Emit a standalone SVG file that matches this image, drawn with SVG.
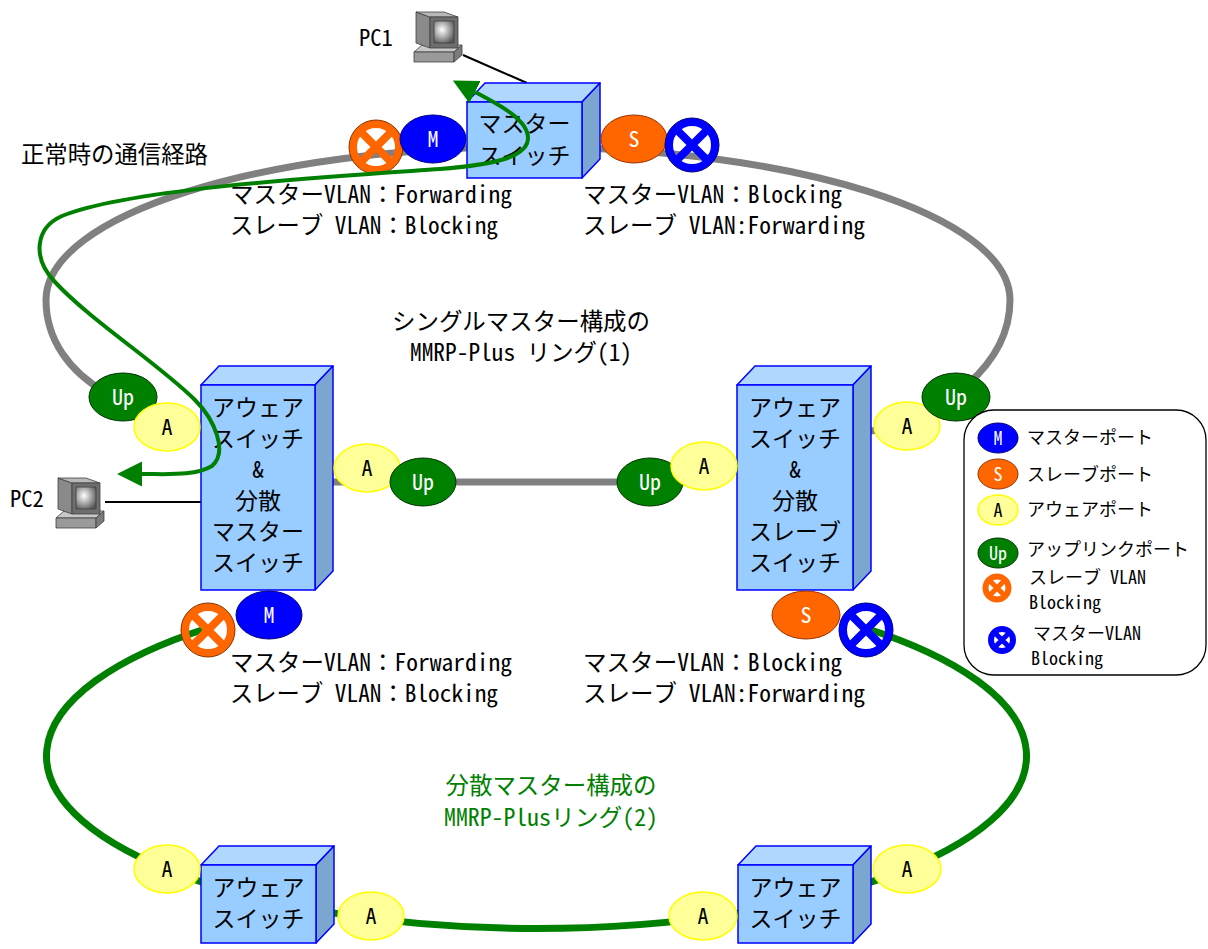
<svg xmlns="http://www.w3.org/2000/svg" width="1208" height="949" viewBox="0 0 1208 949">
  <defs>
    <style>
      .txt{font-family:"Noto Sans Mono CJK JP","Noto Sans CJK JP","DejaVu Sans",sans-serif;fill:#000}
      .lbl{font-size:23.5px}
      .swt{font-size:23px;text-anchor:middle}
      .lg{font-size:18px}
      .pt{font-family:"Noto Sans Mono CJK JP","DejaVu Sans Condensed","DejaVu Sans",sans-serif;font-size:22px;text-anchor:middle}
      .ptl{font-family:"Noto Sans Mono CJK JP","DejaVu Sans Condensed","DejaVu Sans",sans-serif;font-size:18px;text-anchor:middle}
      .w{fill:#fff}
      .k{fill:#000}
      .grn{fill:#008000}
      .front{fill:#99ccff;stroke:#0000ff;stroke-width:1.5}
      .top{fill:#b0d8ff;stroke:#0000ff;stroke-width:1.5;stroke-linejoin:round}
      .side{fill:#7ba6cf;stroke:#0000ff;stroke-width:1.5;stroke-linejoin:round}
      .pm{fill:#0000ff;stroke:#000080;stroke-width:1}
      .ps{fill:#ff6600;stroke:#993300;stroke-width:1}
      .pa{fill:#ffff99;stroke:#ffff00;stroke-width:1.5}
      .pu{fill:#008000;stroke:#003300;stroke-width:1}
      .ring1{fill:none;stroke:#808080;stroke-width:7}
      .ring2{fill:none;stroke:#008000;stroke-width:7}
      .wire{fill:none;stroke:#000;stroke-width:2}
      .route{fill:none;stroke:#008000;stroke-width:4;marker-start:url(#arr);marker-end:url(#arr)}
    </style>
    <marker id="arr" markerUnits="userSpaceOnUse" markerWidth="28" markerHeight="30" viewBox="0 -15 28 30" refX="0" refY="0" orient="auto-start-reverse">
      <path d="M0,-12.5 L25,0 L0,12.5 z" fill="#008000"/>
    </marker>
    <radialGradient id="screen" cx="0.4" cy="0.4" r="0.7">
      <stop offset="0" stop-color="#ffffff"/>
      <stop offset="1" stop-color="#555555"/>
    </radialGradient>
    <!-- blocked port marks: ring with a cross -->
    <g id="xo">
      <circle r="23" fill="none" stroke="#ff6600" stroke-width="8"/>
      <circle r="27" fill="none" stroke="#8a3300" stroke-width="1"/>
      <path d="M-17,-17 L17,17 M-17,17 L17,-17" stroke="#ff6600" stroke-width="8"/>
    </g>
    <g id="xb">
      <circle r="23" fill="none" stroke="#0000ff" stroke-width="8"/>
      <circle r="27" fill="none" stroke="#000080" stroke-width="1"/>
      <path d="M-17,-17 L17,17 M-17,17 L17,-17" stroke="#0000ff" stroke-width="8"/>
    </g>
    <!-- desktop PC icon -->
    <symbol id="pc" viewBox="0 0 52 56" width="52" height="56">
      <g stroke="#404040" stroke-width="0.8" stroke-linejoin="round">
        <polygon points="2,44 10,37 50,37 42,44" fill="#c8c8c8"/>
        <polygon points="2,44 42,44 42,54 2,54" fill="#9a9a9a"/>
        <polygon points="42,44 50,37 50,47 42,54" fill="#7a7a7a"/>
        <polygon points="18,9 4,4 4,35 18,40" fill="#8a8a8a"/>
        <polygon points="18,9 46,9 32,4 4,4" fill="#b8b8b8"/>
        <rect x="18" y="9" width="28" height="31" fill="#6e6e6e"/>
        <rect x="22" y="13" width="20" height="22" fill="url(#screen)"/>
      </g>
    </symbol>
  </defs>

  <!-- ring cabling -->
  <g id="connectors">
    <path class="ring1" d="M105,392 C70,372 46,340 46,300 C46,215 262,147 528,147 C794,147 1010,215 1010,300 C1010,332 995,360 968,384"/>
    <path class="ring1" d="M330,482 L720,482"/>
    <path class="ring1" d="M860,432 L900,428"/>
    <path class="ring2" d="M208,628 A490 172.5 0 1 0 865,628"/>
    <path class="wire" d="M463,55 L527,83"/>
    <path class="wire" d="M105,502 L201,502"/>
  </g>

  <!-- PCs -->
  <g id="pc1">
    <use href="#pc" x="412" y="8"/>
    <text class="txt" x="359" y="46" font-size="22.5">PC1</text>
  </g>
  <g id="pc2">
    <use href="#pc" x="54" y="474"/>
    <text class="txt" x="10" y="507" font-size="22.5">PC2</text>
  </g>

  <!-- switches -->
  <g id="sw-master">
    <polygon class="top" points="467,102 485,83 600,83 582,102"/>
    <polygon class="side" points="582,102 600,83 600,159 582,178"/>
    <rect class="front" x="467" y="102" width="115" height="76"/>
    <text class="txt swt" x="524.5" y="132">マスター</text>
    <text class="txt swt" x="524.5" y="164">スイッチ</text>
  </g>
  <g id="sw-left">
    <polygon class="top" points="201,385 219,366 333,366 315,385"/>
    <polygon class="side" points="315,385 333,366 333,571 315,590"/>
    <rect class="front" x="201" y="385" width="114" height="205"/>
    <text class="txt swt" x="258" y="416">アウェア</text>
    <text class="txt swt" x="258" y="447">スイッチ</text>
    <text class="txt swt" x="258" y="478">&amp;</text>
    <text class="txt swt" x="258" y="509">分散</text>
    <text class="txt swt" x="258" y="540">マスター</text>
    <text class="txt swt" x="258" y="571">スイッチ</text>
  </g>
  <g id="sw-right">
    <polygon class="top" points="737,385 755,366 871,366 853,385"/>
    <polygon class="side" points="853,385 871,366 871,571 853,590"/>
    <rect class="front" x="737" y="385" width="116" height="205"/>
    <text class="txt swt" x="795" y="416">アウェア</text>
    <text class="txt swt" x="795" y="447">スイッチ</text>
    <text class="txt swt" x="795" y="478">&amp;</text>
    <text class="txt swt" x="795" y="509">分散</text>
    <text class="txt swt" x="795" y="540">スレーブ</text>
    <text class="txt swt" x="795" y="571">スイッチ</text>
  </g>
  <g id="sw-bottom-left">
    <polygon class="top" points="201,865 219,846 334,846 316,865"/>
    <polygon class="side" points="316,865 334,846 334,924 316,943"/>
    <rect class="front" x="201" y="865" width="115" height="78"/>
    <text class="txt swt" x="258.5" y="896">アウェア</text>
    <text class="txt swt" x="258.5" y="927">スイッチ</text>
  </g>
  <g id="sw-bottom-right">
    <polygon class="top" points="738,865 756,846 871,846 853,865"/>
    <polygon class="side" points="853,865 871,846 871,924 853,943"/>
    <rect class="front" x="738" y="865" width="115" height="78"/>
    <text class="txt swt" x="795.5" y="896">アウェア</text>
    <text class="txt swt" x="795.5" y="927">スイッチ</text>
  </g>

  <!-- ports -->
  <g id="port-master-x"><use href="#xo" x="376" y="147"/></g>
  <g id="port-master-m"><ellipse class="pm" cx="433" cy="139" rx="33" ry="24"/><text class="pt w" x="433" y="147">M</text></g>
  <g id="port-master-s"><ellipse class="ps" cx="634" cy="139" rx="33" ry="24"/><text class="pt w" x="634" y="147">S</text></g>
  <g id="port-master-xb"><use href="#xb" x="692" y="145"/></g>

  <g id="port-left-up"><ellipse class="pu" cx="123" cy="397" rx="34" ry="24"/><text class="pt w" x="123" y="405">Up</text></g>
  <g id="port-left-a"><ellipse class="pa" cx="167" cy="427" rx="33" ry="24"/><text class="pt k" x="167" y="435">A</text></g>
  <g id="port-left-a2"><ellipse class="pa" cx="367" cy="468" rx="33" ry="24"/><text class="pt k" x="367" y="476">A</text></g>
  <g id="port-left-up2"><ellipse class="pu" cx="423" cy="482" rx="33" ry="24"/><text class="pt w" x="423" y="490">Up</text></g>
  <g id="port-right-up2"><ellipse class="pu" cx="650" cy="482" rx="33" ry="24"/><text class="pt w" x="650" y="490">Up</text></g>
  <g id="port-right-a2"><ellipse class="pa" cx="704" cy="466" rx="33" ry="24"/><text class="pt k" x="704" y="474">A</text></g>
  <g id="port-right-a"><ellipse class="pa" cx="907" cy="426" rx="33" ry="24"/><text class="pt k" x="907" y="434">A</text></g>
  <g id="port-right-up"><ellipse class="pu" cx="956" cy="397" rx="34" ry="24"/><text class="pt w" x="956" y="405">Up</text></g>

  <g id="port-left-x"><use href="#xo" x="208" y="630"/></g>
  <g id="port-left-m"><ellipse class="pm" cx="269" cy="615" rx="33" ry="24"/><text class="pt w" x="269" y="623">M</text></g>
  <g id="port-right-s"><ellipse class="ps" cx="806" cy="615" rx="34" ry="24"/><text class="pt w" x="806" y="623">S</text></g>
  <g id="port-right-xb"><use href="#xb" x="866" y="630"/></g>

  <g id="port-bl-a1"><ellipse class="pa" cx="167" cy="869" rx="33" ry="24"/><text class="pt k" x="167" y="877">A</text></g>
  <g id="port-bl-a2"><ellipse class="pa" cx="371" cy="916" rx="33" ry="24"/><text class="pt k" x="371" y="924">A</text></g>
  <g id="port-br-a1"><ellipse class="pa" cx="703" cy="916" rx="34" ry="24"/><text class="pt k" x="703" y="924">A</text></g>
  <g id="port-br-a2"><ellipse class="pa" cx="907" cy="869" rx="34" ry="24"/><text class="pt k" x="907" y="877">A</text></g>

  <!-- port state and ring labels -->
  <g id="labels">
    <text class="txt lbl" x="21" y="163" textLength="187" lengthAdjust="spacingAndGlyphs">正常時の通信経路</text>
    <text class="txt lbl" x="230" y="203" textLength="282" lengthAdjust="spacingAndGlyphs">マスターVLAN：Forwarding</text>
    <text class="txt lbl" x="230" y="234" textLength="268" lengthAdjust="spacingAndGlyphs">スレーブ VLAN：Blocking</text>
    <text class="txt lbl" x="583" y="203" textLength="259" lengthAdjust="spacingAndGlyphs">マスターVLAN：Blocking</text>
    <text class="txt lbl" x="583" y="234" textLength="282" lengthAdjust="spacingAndGlyphs">スレーブ VLAN:Forwarding</text>
    <text class="txt lbl" x="230" y="671" textLength="282" lengthAdjust="spacingAndGlyphs">マスターVLAN：Forwarding</text>
    <text class="txt lbl" x="230" y="702" textLength="268" lengthAdjust="spacingAndGlyphs">スレーブ VLAN：Blocking</text>
    <text class="txt lbl" x="583" y="671" textLength="259" lengthAdjust="spacingAndGlyphs">マスターVLAN：Blocking</text>
    <text class="txt lbl" x="583" y="702" textLength="282" lengthAdjust="spacingAndGlyphs">スレーブ VLAN:Forwarding</text>
    <text class="txt lbl" x="521" y="330" text-anchor="middle" textLength="258" lengthAdjust="spacingAndGlyphs">シングルマスター構成の</text>
    <text class="txt lbl" x="521" y="361" text-anchor="middle" textLength="222" lengthAdjust="spacingAndGlyphs">MMRP-Plus リング(1)</text>
    <text class="txt lbl grn" x="551" y="794" text-anchor="middle" textLength="211" lengthAdjust="spacingAndGlyphs">分散マスター構成の</text>
    <text class="txt lbl grn" x="551" y="826" text-anchor="middle" textLength="214" lengthAdjust="spacingAndGlyphs">MMRP-Plusリング(2)</text>
  </g>

  <!-- legend -->
  <g id="legend">
    <rect x="964" y="410" width="242" height="265" rx="30" ry="30" fill="#fff" stroke="#000" stroke-width="1.3"/>
    <ellipse class="pm" cx="998" cy="438" rx="20" ry="15"/><text class="ptl w" x="998" y="444.5">M</text>
    <text class="txt lg" x="1027" y="444">マスターポート</text>
    <ellipse class="ps" cx="998" cy="474" rx="20" ry="15"/><text class="ptl w" x="998" y="480.5">S</text>
    <text class="txt lg" x="1027" y="481">スレーブポート</text>
    <ellipse class="pa" cx="998" cy="510" rx="20" ry="15"/><text class="ptl k" x="998" y="516.5">A</text>
    <text class="txt lg" x="1027" y="516">アウェアポート</text>
    <ellipse class="pu" cx="998" cy="553" rx="20" ry="15"/><text class="ptl w" x="998" y="559.5">Up</text>
    <text class="txt lg" x="1027" y="556">アップリンクポート</text>
    <g transform="translate(997,588)">
      <circle r="11.5" fill="none" stroke="#ff6600" stroke-width="6"/>
      <path d="M-9,-9 L9,9 M-9,9 L9,-9" stroke="#ff6600" stroke-width="5"/>
    </g>
    <text class="txt lg" x="1029" y="584">スレーブ VLAN</text>
    <text class="txt lg" x="1029" y="609">Blocking</text>
    <g transform="translate(1002,640)">
      <circle r="11" fill="none" stroke="#0000ff" stroke-width="6"/>
      <path d="M-9,-9 L9,9 M-9,9 L9,-9" stroke="#0000ff" stroke-width="5"/>
    </g>
    <text class="txt lg" x="1033" y="640">マスターVLAN</text>
    <text class="txt lg" x="1031" y="665">Blocking</text>
  </g>

  <!-- normal-state traffic path -->
  <g id="route">
    <path class="route" d="M475,92 C500,105 528,120 528,138 C528,158 490,165 440,169 C340,176 130,188 62,216 C35,228 32,258 55,282 C90,320 160,365 195,400 C215,420 228,452 212,466 C195,476 170,474 142,474"/>
  </g>
</svg>
